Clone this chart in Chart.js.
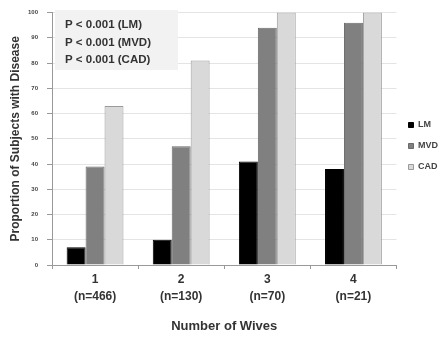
<!DOCTYPE html>
<html>
<head>
<meta charset="utf-8">
<script src="https://cdn.jsdelivr.net/npm/chart.js@4"></script>
<style>
html,body{margin:0;padding:0;background:#fff;}
#wrap{width:448px;height:337px;position:relative;}
</style>
</head>
<body>
<div id="wrap"><canvas id="c" width="448" height="337"></canvas></div>
<script>
const categories = [["1","(n=466)"],["2","(n=130)"],["3","(n=70)"],["4","(n=21)"]];
const lmValues = [7, 10, 41, 38];
const mvdValues = [39, 47, 94, 96];
const cadValues = [63, 81, 100, 100];
const yTicks = [0,10,20,30,40,50,60,70,80,90,100];
const pLabels = ["P < 0.001 (LM)", "P < 0.001 (MVD)", "P < 0.001 (CAD)"];

const FONT = "'Liberation Sans', Arial, sans-serif";

const pBox = {
  id: 'pBox',
  beforeDatasetsDraw(chart) {
    const ctx = chart.ctx;
    const ca = chart.chartArea;
    ctx.save();
    ctx.fillStyle = '#f2f2f2';
    ctx.fillRect(ca.left + 3, 10, 123, 60);
    ctx.fillStyle = '#333';
    ctx.font = "bold 11.5px " + FONT;
    ctx.textBaseline = 'middle';
    pLabels.forEach((t, i) => ctx.fillText(t, ca.left + 13, 25 + i * 17.5));
    ctx.restore();
  }
};

new Chart(document.getElementById('c'), {
  type: 'bar',
  data: {
    labels: categories,
    datasets: [
      {label: 'LM', data: lmValues, backgroundColor: '#000000', borderColor: '#000000', borderWidth: 1},
      {label: 'MVD', data: mvdValues, backgroundColor: '#808080', borderColor: '#6a6a6a', borderWidth: 1},
      {label: 'CAD', data: cadValues, backgroundColor: '#d9d9d9', borderColor: '#9a9a9a', borderWidth: 1}
    ]
  },
  options: {
    responsive: false,
    animation: false,
    devicePixelRatio: 1,
    layout: {padding: {top: 12, right: 0, left: 6, bottom: 0}},
    datasets: {bar: {categoryPercentage: 0.66, barPercentage: 1}},
    plugins: {
      legend: {
        position: 'right',
        align: 'center',
        fullSize: false,
        title: {display: true, text: ' ', font: {size: 2}, padding: {top: 12, bottom: 0}},
        labels: {
          boxWidth: 5, boxHeight: 5, padding: 12,
          color: '#444',
          font: {family: FONT, size: 9, weight: 'bold'}
        }
      },
      tooltip: {enabled: false}
    },
    scales: {
      x: {
        grid: {drawOnChartArea: false, tickLength: 4, color: '#999'},
        border: {color: '#999'},
        ticks: {color: '#333', font: {family: FONT, size: 12, weight: 'bold', lineHeight: 1.4}, padding: 2},
        title: {display: true, text: 'Number of Wives', color: '#333', font: {family: FONT, size: 13, weight: 'bold'}, padding: {top: 4, bottom: 3}},
        afterFit: s => { s.height = 72; }
      },
      y: {
        min: 0, max: 100,
        afterBuildTicks: s => { s.ticks = yTicks.map(v => ({value: v})); },
        grid: {color: '#e4e4e4', tickLength: 5, tickColor: '#999'},
        border: {color: '#999'},
        ticks: {color: '#444', font: {family: FONT, size: 6, weight: 'bold'}, padding: 9},
        title: {display: true, text: 'Proportion of Subjects with Disease', color: '#333', font: {family: FONT, size: 12, weight: 'bold'}, padding: 2},
        afterFit: s => { s.width = 46; }
      }
    }
  },
  plugins: [pBox]
});
</script>
</body>
</html>
